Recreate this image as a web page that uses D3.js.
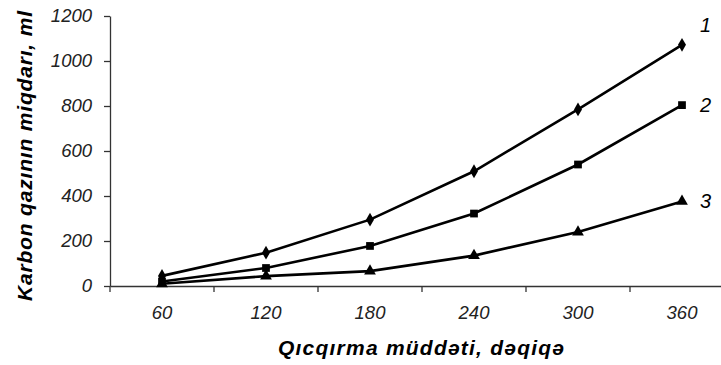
<!DOCTYPE html>
<html>
<head>
<meta charset="utf-8">
<script src="https://cdn.jsdelivr.net/npm/d3@7"></script>
<style>
  body { margin: 0; background: #fff; }
  text { font-family: "Liberation Sans", Arial, sans-serif; }
</style>
</head>
<body>
<svg id="chart" width="721" height="365"></svg>
<script>
// minutes of fermentation
var minutes = ["60", "120", "180", "240", "300", "360"];
var series1 = [45, 148, 295, 510, 785, 1072];
var series2 = [20, 80, 178, 322, 540, 804];
var series3 = [10, 44, 66, 135, 240, 376];
var seriesNames = ["1", "2", "3"];
var yTicks = [0, 200, 400, 600, 800, 1000, 1200];

var svg = d3.select("#chart");
var plotLeft = 110, plotRight = 734, plotTop = 16, plotBottom = 286;

var x = d3.scaleBand().domain(minutes).range([plotLeft, plotRight]);
var y = d3.scaleLinear().domain([0, 1200]).range([plotBottom, plotTop]);

var axisColor = "#333";

// y axis
var yAxis = svg.append("g")
  .attr("transform", "translate(" + plotLeft + ",0)")
  .call(d3.axisLeft(y).tickValues(yTicks).tickFormat(d3.format("d")).tickSize(6).tickSizeOuter(0).tickPadding(12));
yAxis.select(".domain").attr("stroke", axisColor).attr("stroke-width", 1.3);
yAxis.selectAll(".tick line").attr("stroke", axisColor).attr("stroke-width", 1.3);
yAxis.selectAll(".tick text")
  .style("font-size", "18.5px").style("font-style", "italic").attr("fill", "#222");

// x axis
var xAxis = svg.append("g")
  .attr("transform", "translate(0," + plotBottom + ")")
  .call(d3.axisBottom(x).tickSize(0).tickPadding(20));
xAxis.select(".domain").attr("stroke", axisColor).attr("stroke-width", 1.3);
xAxis.selectAll(".tick text")
  .style("font-size", "18.5px").style("font-style", "italic").attr("fill", "#222");
// tick marks on the band edges
xAxis.selectAll(".edge")
  .data(minutes)
  .enter().append("line")
  .attr("class", "edge")
  .attr("x1", function (d) { return x(d); })
  .attr("x2", function (d) { return x(d); })
  .attr("y1", 0).attr("y2", 6)
  .attr("stroke", axisColor).attr("stroke-width", 1.3);

// axis titles
svg.append("text")
  .attr("transform", "translate(32,156) rotate(-90)")
  .attr("text-anchor", "middle")
  .attr("textLength", 290).attr("lengthAdjust", "spacing")
  .style("font-size", "21px").style("font-weight", "bold").style("font-style", "italic")
  .text("Karbon qazının miqdarı, ml");

svg.append("text")
  .attr("x", 421).attr("y", 355)
  .attr("text-anchor", "middle")
  .attr("textLength", 286).attr("lengthAdjust", "spacing")
  .style("font-size", "21px").style("font-weight", "bold").style("font-style", "italic")
  .text("Qıcqırma müddəti, dəqiqə");

var allSeries = [series1, series2, series3];
var symbols = [d3.symbolDiamond, d3.symbolSquare, d3.symbolTriangle];
var symbolSizes = [55, 60, 60];

var line = d3.line()
  .x(function (d, i) { return x(minutes[i]) + x.bandwidth() / 2; })
  .y(function (d) { return y(d); });

allSeries.forEach(function (vals, k) {
  svg.append("path")
    .datum(vals)
    .attr("d", line)
    .attr("fill", "none")
    .attr("stroke", "#000")
    .attr("stroke-width", 2.6);

  svg.selectAll(".m" + k)
    .data(vals)
    .enter().append("path")
    .attr("class", "m" + k)
    .attr("d", d3.symbol().type(symbols[k]).size(symbolSizes[k]))
    .attr("transform", function (d, i) {
      return "translate(" + (x(minutes[i]) + x.bandwidth() / 2) + "," + y(d) + ")";
    })
    .attr("fill", "#000");

  var last = vals[vals.length - 1];
  svg.append("text")
    .attr("x", x(minutes[minutes.length - 1]) + x.bandwidth() / 2 + 18)
    .attr("y", y(last) - (k === 0 ? 20 : 0))
    .attr("dy", "0.35em")
    .style("font-size", "20px").style("font-style", "italic")
    .text(seriesNames[k]);
});
</script>
</body>
</html>
